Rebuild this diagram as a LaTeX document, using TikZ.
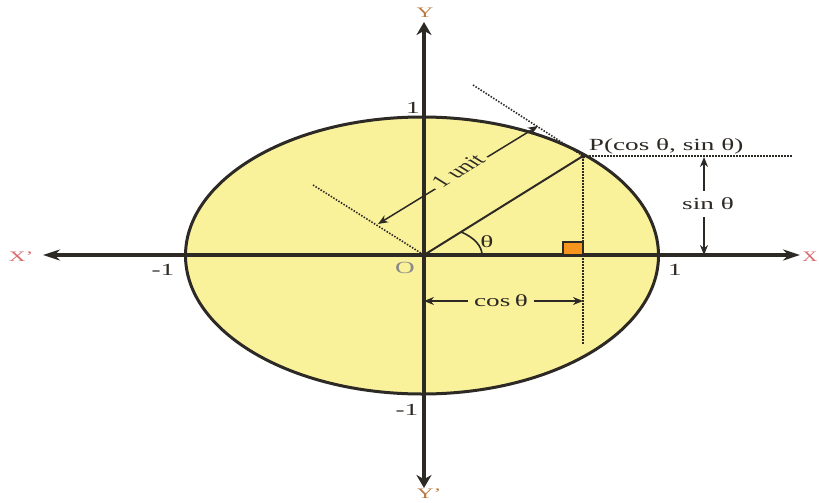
\documentclass[tikz,border=0pt]{standalone}
\usepackage{fontspec}
\setmainfont{Liberation Serif}
\usetikzlibrary{arrows.meta}
\definecolor{fillY}{HTML}{FAF29B}
\definecolor{ink}{HTML}{2D2925}
\definecolor{xred}{HTML}{D9686A}
\definecolor{ybrown}{HTML}{B8793F}
\definecolor{ogray}{HTML}{8A8A8A}
\definecolor{sqorange}{HTML}{F7941E}
\begin{document}
\begin{tikzpicture}[x=1pt,y=1pt,
  every node/.style={font=\fontsize{17}{19}\selectfont, xscale=1.6, inner sep=1pt, text=ink},
  axislab/.style={font=\fontsize{14.5}{16}\selectfont},
  axisline/.style={ink, line width=3.4pt},
  dots/.style={ink, line width=1.6pt, dash pattern=on 1.5pt off 1.5pt},
  dimline/.style={ink, line width=1.5pt, {Stealth[length=10pt,width=8pt]}-{Stealth[length=10pt,width=8pt]}}
]
\useasboundingbox (0,0) rectangle (819,-503);
% coordinates
\coordinate (O) at (424,-255);
\coordinate (P) at (583,-156);
\coordinate (Xl) at (43,-255);
\coordinate (Xr) at (800,-255);
\coordinate (Yt) at (424,-22);
\coordinate (Yb) at (424,-488);
\coordinate (T1) at (473,-85);
\coordinate (T2) at (313,-185);
\coordinate (H) at (793,-156);
\coordinate (V) at (583,-345);
\coordinate (U1) at (378,-224);
\coordinate (U2) at (538,-126);
\coordinate (C1) at (424,-301);
\coordinate (C2) at (583,-301);
\coordinate (S1) at (704,-157);
\coordinate (S2) at (704,-255);
\coordinate (A0) at (482,-255);
\coordinate (Q1) at (563,-255);
\coordinate (Q2) at (583,-242);
% circle (stretched)
\filldraw[fill=fillY, draw=ink, line width=3pt] (422,-255.5) ellipse [x radius=236.5, y radius=138.5];
% axes
\draw[axisline, {Stealth[length=17pt,width=11pt]}-{Stealth[length=17pt,width=11pt]}] (Xl) -- (Xr);
\draw[axisline, {Stealth[length=13pt,width=15pt]}-{Stealth[length=13pt,width=15pt]}] (Yb) -- (Yt);
% dotted guides
\draw[dots] (T1) -- (P);
\draw[dots] (T2) -- (O);
\draw[dots] (P) -- (H);
\draw[dots] (P) -- (V);
% radius
\draw[ink, line width=2pt] (O) -- (P);
\fill[ink] (P) circle (2.6pt);
% right angle mark
\filldraw[fill=sqorange, draw=ink, line width=1.6pt] (Q1) rectangle (Q2);
% angle arc
\draw[ink, line width=1.6pt] (A0) arc [start angle=0, end angle=50.3, x radius=58, y radius=30];
\node (th) at (487,-242) {θ};
% dimension arrows
\draw[dimline] (U1) -- (U2);
\node[fill=fillY, rotate=45, inner xsep=3pt, inner ysep=0pt] (unit) at (458,-171) {1 unit};
\draw[dimline] (C1) -- (C2);
\node[fill=fillY, inner xsep=4pt] (cos) at (501,-301) {cos\,θ};
\draw[dimline] (S1) -- (S2);
\node[fill=white, inner ysep=7pt] (sin) at (708,-204) {sin θ};
% labels
\node[anchor=west] (Plab) at (587,-146) {P(cos θ, sin θ)};
\node (one1) at (413,-108) {1};
\node (mone1) at (163,-270) {-1};
\node (one2) at (675,-270) {1};
\node (mone2) at (407,-410) {-1};
\node[text=ogray] (Olab) at (405,-268) {O};
\node[axislab, text=xred] (xp) at (21,-257) {X’};
\node[axislab, text=xred, anchor=west, xscale=0.9, inner sep=0pt] (x) at (802,-257) {X};
\node[axislab, text=ybrown] (y) at (425,-13) {Y};
\node[axislab, text=ybrown, anchor=west] (yp) at (415,-494) {Y’};
\end{tikzpicture}
\end{document}
